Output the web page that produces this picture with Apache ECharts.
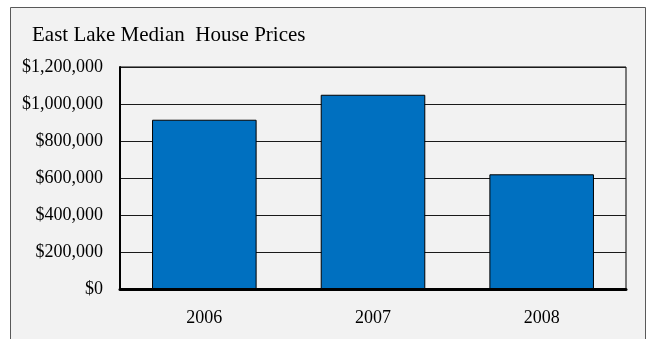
<!DOCTYPE html>
<html>
<head>
<meta charset="utf-8">
<script src="https://cdn.jsdelivr.net/npm/echarts@6/dist/echarts.min.js"></script>
<style>
  html, body { margin: 0; padding: 0; background: #ffffff; }
  #chart { width: 652px; height: 339px; }
</style>
</head>
<body>
<div id="chart"></div>
<script>
// Median sale price per year, East Lake
const years = ['2006', '2007', '2008'];
const medianPrices = [915000, 1050000, 620000];
const yTicks = [0, 200000, 400000, 600000, 800000, 1000000, 1200000];

const fmtMoney = v => '$' + v.toString().replace(/\B(?=(\d{3})+(?!\d))/g, ',');
const serif = '"Liberation Serif", "DejaVu Serif", serif';

const chart = echarts.init(document.getElementById('chart'), null, { renderer: 'canvas' });
chart.setOption({
  backgroundColor: '#ffffff',
  animation: false,
  graphic: [{
    type: 'rect',
    z: -10,
    shape: { x: 10.5, y: 7.5, width: 635, height: 340 },
    style: { fill: '#f2f2f2', stroke: '#595959', lineWidth: 1 }
  }],
  title: {
    text: 'East Lake Median  House Prices',
    left: 27, top: 20,
    textStyle: { fontFamily: serif, fontSize: 21, fontWeight: 'normal', color: '#000' }
  },
  grid: {
    left: 120, top: 67, right: 26, bottom: 50,
    show: true, borderColor: '#000', borderWidth: 1, backgroundColor: 'transparent'
  },
  xAxis: {
    type: 'category',
    data: years,
    axisLine: { lineStyle: { color: '#000', width: 3 } },
    axisTick: { show: false },
    axisLabel: { fontFamily: serif, fontSize: 18, color: '#000', margin: 20 }
  },
  yAxis: {
    type: 'value',
    min: yTicks[0],
    max: yTicks[yTicks.length - 1],
    interval: yTicks[1] - yTicks[0],
    axisLine: { show: true, lineStyle: { color: '#000', width: 2 } },
    axisTick: { show: false },
    splitLine: { lineStyle: { color: '#1a1a1a', width: 1 } },
    axisLabel: { fontFamily: serif, fontSize: 18, color: '#000', margin: 17, formatter: fmtMoney }
  },
  series: [{
    type: 'bar',
    data: medianPrices,
    barWidth: '62%',
    itemStyle: { color: '#0070c0', borderColor: '#000', borderWidth: 1 }
  }]
});
</script>
</body>
</html>
